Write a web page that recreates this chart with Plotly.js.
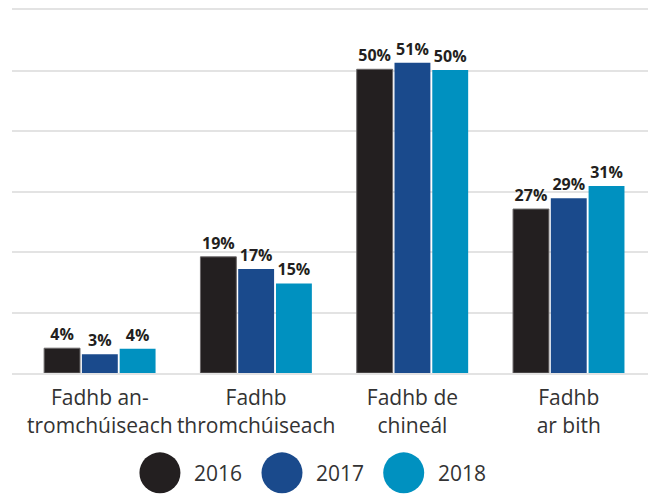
<!DOCTYPE html>
<html>
<head>
<meta charset="utf-8">
<script src="https://cdn.plot.ly/plotly-3.0.1.min.js"></script>
<style>
  body { margin: 0; background: #fff; }
  #chart { width: 650px; height: 500px; }
</style>
</head>
<body>
<div id="chart"></div>
<script>
// data
var categories = ['Fadhb an-<br>tromchúiseach', 'Fadhb<br>thromchúiseach', 'Fadhb de<br>chineál', 'Fadhb<br>ar bith'];
var years = ['2016', '2017', '2018'];
var values2016 = [4.1, 19.2, 50.2, 27.1];
var values2017 = [3.1, 17.2, 51.3, 28.9];
var values2018 = [4.0, 14.8, 50.1, 30.9];
var colors = ['#231f20', '#1a4a8c', '#0091c0'];

var series = [values2016, values2017, values2018];

var traces = series.map(function (vals, i) {
  return {
    type: 'bar',
    name: years[i],
    x: categories,
    y: vals,
    marker: {
      color: colors[i],
      line: { color: i === 0 ? '#6b6869' : colors[i], width: i === 0 ? 1 : 0 }
    },
    texttemplate: '%{y:.0f}%',
    textposition: 'outside',
    cliponaxis: false,
    textfont: { family: 'Open Sans', size: 16, color: '#231f20', weight: 'bold' },
    hoverinfo: 'skip',
    showlegend: false
  };
});

// custom legend: big dots + year labels
var legendX = [0.2326, 0.4245, 0.6159];
var shapes = [];
var annotations = [];
years.forEach(function (yr, i) {
  shapes.push({
    type: 'circle',
    xref: 'paper', yref: 'paper',
    xsizemode: 'pixel', ysizemode: 'pixel',
    xanchor: legendX[i], yanchor: -0.275,
    x0: -20.5, x1: 20.5, y0: -20.5, y1: 20.5,
    fillcolor: colors[i],
    line: { width: 0 }
  });
  annotations.push({
    xref: 'paper', yref: 'paper',
    x: legendX[i] + 0.05, y: -0.275,
    xanchor: 'left', yanchor: 'middle',
    text: yr,
    showarrow: false,
    font: { family: 'Open Sans', size: 21, color: '#333333' }
  });
});

var layout = {
  width: 650,
  height: 500,
  margin: { l: 12, r: 2, t: 10, b: 127 },
  paper_bgcolor: '#ffffff',
  plot_bgcolor: '#ffffff',
  barmode: 'group',
  bargap: 0.275,
  bargroupgap: 0.05,
  showlegend: false,
  font: { family: 'Open Sans', size: 21, color: '#333333' },
  xaxis: {
    type: 'category',
    range: [-0.562, 3.507],
    showgrid: false,
    zeroline: false,
    // axis line at the bottom, mirrored at the top = top gridline
    showline: true,
    mirror: true,
    linecolor: '#e3e3e3',
    linewidth: 2,
    ticks: '',
    ticklabelstandoff: 5,
    tickfont: { family: 'Open Sans', size: 21, color: '#333333' }
  },
  yaxis: {
    range: [0, 60],
    tickmode: 'linear',
    tick0: 0,
    dtick: 10,
    showgrid: true,
    gridcolor: '#e3e3e3',
    gridwidth: 2,
    zeroline: false,
    showline: false,
    showticklabels: false,
    ticks: ''
  },
  shapes: shapes,
  annotations: annotations
};

Plotly.newPlot('chart', traces, layout, { displayModeBar: false, staticPlot: true });
</script>
</body>
</html>
